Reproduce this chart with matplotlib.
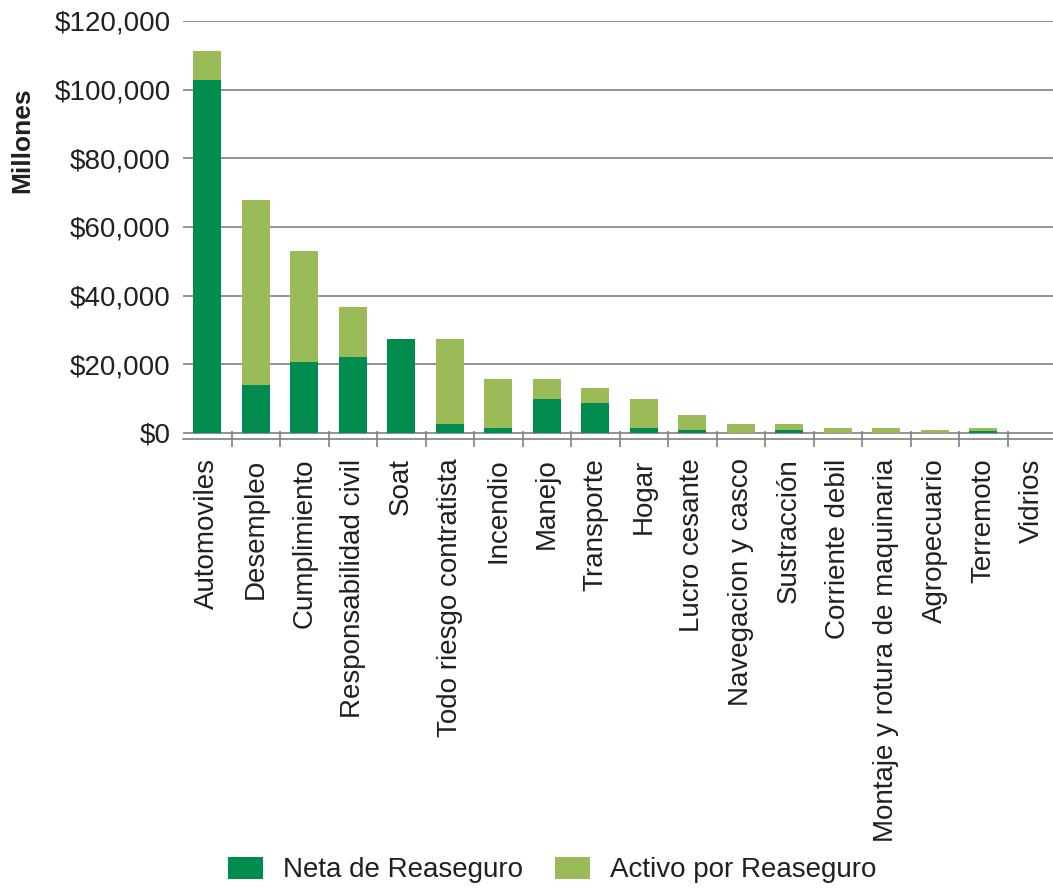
import matplotlib.pyplot as plt
import numpy as np
from matplotlib.ticker import FuncFormatter, FixedLocator

plt.rcParams['font.family'] = ['Liberation Sans', 'DejaVu Sans']

categories = ["Automoviles", "Desempleo", "Cumplimiento", "Responsabilidad civil", "Soat",
              "Todo riesgo contratista", "Incendio", "Manejo", "Transporte", "Hogar",
              "Lucro cesante", "Navegacion y casco", "Sustracción", "Corriente debil",
              "Montaje y rotura de maquinaria", "Agropecuario", "Terremoto", "Vidrios"]
# millones
neta = [102700, 14000, 20700, 22200, 27400, 2600, 1500, 9900, 8800, 1500,
        900, 0, 900, 0, 0, 0, 600, 0]
total = [111200, 68000, 53100, 36800, 27400, 27400, 15800, 15800, 13100, 9900,
         5300, 2600, 2600, 1500, 1500, 900, 1500, 0]
activo = [t - n for t, n in zip(total, neta)]

c_neta = "#008C4F"
c_activo = "#9BBB59"
grey = "#808080"
txt = "#231F20"

fig = plt.figure(figsize=(10.53, 8.9), dpi=100)
ax = fig.add_axes([183 / 1053, (890 - 439) / 890, 873 / 1053, 418 / 890])

x = np.arange(len(categories))
ax.bar(x, neta, width=0.58, color=c_neta, label="Neta de Reaseguro", zorder=3)
ax.bar(x, activo, width=0.58, bottom=neta, color=c_activo, label="Activo por Reaseguro", zorder=3)

ax.set_xlim(-0.5, 17.5)
ax.set_ylim(-1750, 120000)
ax.set_yticks(np.arange(0, 120001, 20000))
ax.yaxis.set_major_formatter(FuncFormatter(lambda v, p: "${:,.0f}".format(v)))
ax.grid(axis="y", color=grey, linewidth=1.2, zorder=0)
ax.tick_params(axis="y", length=0, pad=9, labelsize=20, labelcolor=txt)

ax.set_xticks(x)
ax.set_xticklabels(categories, rotation=90, fontsize=20, color=txt)
ax.tick_params(axis="x", which="major", length=0, pad=14)
ax.xaxis.set_minor_locator(FixedLocator(np.arange(0.5, 17, 1)))
ax.tick_params(axis="x", which="minor", direction="inout", length=11, width=1.2, color=grey)

for s in ["top", "right", "left"]:
    ax.spines[s].set_visible(False)
ax.spines["bottom"].set_color(grey)
ax.spines["bottom"].set_linewidth(1.2)

fig.text(22 / 1053, 1 - 140 / 890, "Millones", rotation=90, fontsize=19, fontweight="bold",
         ha="center", va="center", color=txt)

handles, labels = ax.get_legend_handles_labels()
fig.legend(handles, labels, loc="center", bbox_to_anchor=(0.524, 0.0225), ncol=2,
           frameon=False, fontsize=20, handlelength=1.26, handleheight=0.86,
           handletextpad=0.72, columnspacing=1.15, labelcolor=txt)

fig.savefig("out.png", dpi=100)
